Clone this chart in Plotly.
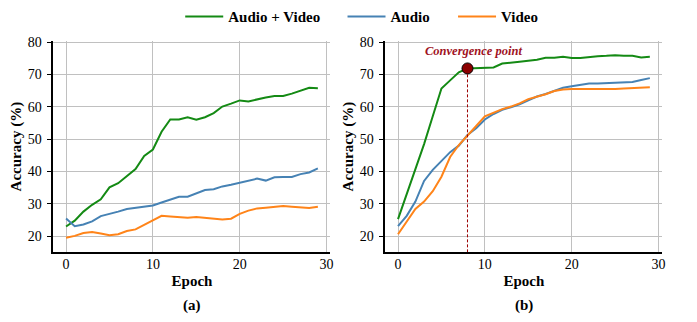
import plotly.graph_objects as go

epochs = list(range(30))

# Panel (a)
av_a = [23.0, 24.8, 27.6, 29.7, 31.4, 35.1, 36.4, 38.6, 40.8, 44.8,
        46.8, 52.3, 56.1, 56.1, 56.8, 56.0, 56.8, 58.1, 60.1, 61.0,
        62.0, 61.7, 62.4, 62.9, 63.4, 63.4, 64.1, 65.0, 65.9, 65.8]
audio_a = [25.5, 23.1, 23.6, 24.6, 26.2, 26.8, 27.6, 28.4, 28.7, 29.1,
           29.5, 30.4, 31.4, 32.2, 32.2, 33.3, 34.3, 34.5, 35.4, 35.9,
           36.6, 37.3, 37.8, 37.2, 38.2, 38.3, 38.3, 39.2, 39.7, 41.0]
video_a = [19.5, 20.1, 21.0, 21.3, 20.8, 20.3, 20.6, 21.6, 22.1, 23.5,
           24.8, 26.3, 26.1, 25.9, 25.7, 25.9, 25.6, 25.3, 25.2, 25.4,
           26.9, 27.9, 28.6, 28.8, 29.1, 29.3, 29.1, 29.0, 28.7, 29.1]

# Panel (b)
av_b = [25.3, 33.0, 40.7, 48.5, 57.1, 65.7, 68.2, 70.7, 71.9, 72.0,
        72.1, 72.2, 73.4, 73.6, 74.0, 74.3, 74.6, 75.2, 75.2, 75.5,
        75.1, 75.1, 75.5, 75.7, 75.8, 76.0, 75.8, 75.8, 75.3, 75.5]
audio_b = [23.1, 26.3, 30.7, 37.1, 40.5, 43.3, 46.0, 48.0, 51.3, 53.4,
           56.1, 57.8, 59.1, 59.9, 60.8, 62.0, 63.2, 64.0, 65.0, 65.9,
           66.4, 66.8, 67.2, 67.2, 67.3, 67.5, 67.6, 67.7, 68.3, 68.9]
video_b = [20.6, 24.3, 28.4, 30.7, 33.9, 38.4, 44.5, 48.2, 51.3, 54.1,
           57.1, 58.3, 59.3, 60.1, 61.1, 62.4, 63.1, 63.9, 64.9, 65.4,
           65.5, 65.5, 65.4, 65.6, 65.5, 65.5, 65.7, 65.9, 66.0, 66.1]

conv_epoch = 8
series_names = ["Audio + Video", "Audio", "Video"]
colors = ["#148a14", "#4682B4", "#FF8419"]
x_ticks = [0, 10, 20, 30]
y_ticks = [20, 30, 40, 50, 60, 70, 80]

FONT = "Liberation Serif"
W, H = 697, 322

fig = go.Figure()
legends = ["legend", "legend2", "legend3"]
for name, col, ys, lg in zip(series_names, colors, [av_a, audio_a, video_a], legends):
    fig.add_trace(go.Scatter(x=epochs, y=ys, mode="lines", name=f"<b>{name}</b>",
                             line=dict(color=col, width=2), legend=lg,
                             xaxis="x", yaxis="y"))
for name, col, ys in zip(series_names, colors, [av_b, audio_b, video_b]):
    fig.add_trace(go.Scatter(x=epochs, y=ys, mode="lines", name=name,
                             line=dict(color=col, width=2), showlegend=False,
                             xaxis="x2", yaxis="y2"))

# convergence marker and dashed drop line
fig.add_trace(go.Scatter(x=[conv_epoch, conv_epoch], y=[15, av_b[conv_epoch]],
                         mode="lines", line=dict(color="#9B0000", width=1, dash="3px,2px"),
                         showlegend=False, xaxis="x2", yaxis="y2"))
fig.add_trace(go.Scatter(x=[conv_epoch], y=[av_b[conv_epoch]], mode="markers",
                         marker=dict(color="#8B0000", size=11, line=dict(color="black", width=1)),
                         showlegend=False, xaxis="x2", yaxis="y2"))

xr = [-1.45, 30.45]
yr = [15, 80.4]
ydom = [1 - 250.8 / H, 1 - 34.7 / H]
xdom1 = [53.7 / W, 331.9 / W]
xdom2 = [387.1 / W, 665.3 / W]

tickfont = dict(family=FONT, size=14, color="black")
titlefont = dict(family=FONT, size=15, color="black")

def xaxis(dom, anchor):
    return dict(domain=dom, anchor=anchor, range=xr, tickvals=x_ticks,
                showgrid=True, gridcolor="#c0c0c0", gridwidth=1,
                showline=True, linecolor="black", linewidth=2,
                ticks="inside", ticklen=8, tickcolor="#c0c0c0",
                tickfont=tickfont, zeroline=False, ticklabelstandoff=-2,
                title=dict(text="<b>Epoch</b>", font=titlefont, standoff=4))

def yaxis(anchor):
    return dict(domain=ydom, anchor=anchor, range=yr, tickvals=y_ticks,
                showgrid=True, gridcolor="#c0c0c0", gridwidth=1,
                showline=True, linecolor="black", linewidth=2,
                ticks="outside", ticklen=4, tickcolor="black",
                tickfont=tickfont, zeroline=False, ticklabelstandoff=3,
                title=dict(text="<b>Accuracy (%)</b>", font=titlefont, standoff=2))

leg_common = dict(orientation="h", yanchor="middle", xanchor="left",
                  bgcolor="rgba(0,0,0,0)", itemwidth=38,
                  font=dict(family=FONT, size=15, color="black"))
leg_y = 1 - 10 / H

fig.update_layout(
    width=W, height=H,
    margin=dict(l=0, r=0, t=0, b=0),
    paper_bgcolor="white", plot_bgcolor="white",
    font=dict(family=FONT),
    xaxis=xaxis(xdom1, "y"), yaxis=yaxis("x"),
    xaxis2=xaxis(xdom2, "y2"), yaxis2=yaxis("x2"),
    legend=dict(x=(183 - 2) / W, y=leg_y, **leg_common),
    legend2=dict(x=(346 - 2) / W, y=leg_y, **leg_common),
    legend3=dict(x=(457 - 2) / W, y=leg_y, **leg_common),
    annotations=[
        dict(text="<b>(a)</b>", xref="x domain", yref="paper", x=0.5, y=1 - 305 / H,
             yanchor="middle", showarrow=False,
             font=dict(family=FONT, size=15, color="black")),
        dict(text="<b>(b)</b>", xref="x2 domain", yref="paper", x=0.5, y=1 - 305 / H,
             yanchor="middle", showarrow=False,
             font=dict(family=FONT, size=15, color="black")),
        dict(text="<b><i>Convergence point</i></b>", xref="x2", yref="y2",
             x=conv_epoch, y=av_b[conv_epoch],
             xshift=6, yshift=17, showarrow=False,
             font=dict(family=FONT, size=12.5, color="#A0121E")),
    ],
    showlegend=True,
)

fig.write_html("out.html")
